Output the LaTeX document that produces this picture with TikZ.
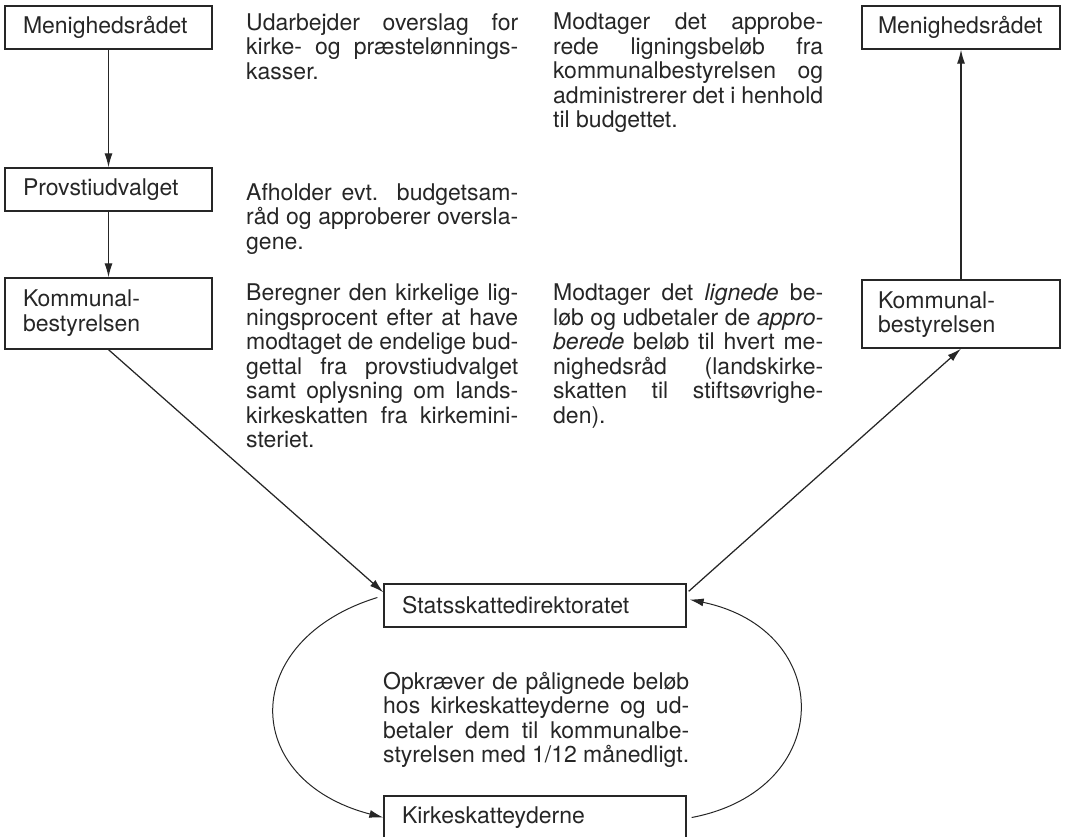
\documentclass[tikz,border=0pt]{standalone}
\usepackage{fontspec}
\setmainfont{TeX Gyre Heros}
\usetikzlibrary{arrows.meta,positioning}
\definecolor{ink}{RGB}{38,38,38}
\tikzset{
  box/.style={draw=ink, line width=1.3pt, inner xsep=18pt, inner ysep=0pt,
    minimum height=43pt, text width=#1, align=left},
  box/.default=171pt,
  txt/.style={anchor=north west, inner sep=0pt, align=justify, text width=#1},
  txt/.default=270pt,
  conn/.style={draw=ink, line width=1.25pt, -{Latex[length=14pt,width=8pt]}},
}

\begin{document}
\begin{tikzpicture}[x=1pt,y=-1pt,
  every node/.style={text=ink, font=\fontsize{23}{24.5}\selectfont},
  execute at begin node={\tolerance=9999 \hyphenpenalty=10000 }]
\useasboundingbox (0,0) rectangle (1067,836);

\node[box] (men1) at (108.5,27.5) {Menighedsrådet};
\node[box] (prov) at (108.5,189.5) {Provstiudvalget};
\node[box, minimum height=71pt, text depth=30pt] (kom1) at (108.5,313.5) {Kommunal-\\bestyrelsen};

\node[box=166pt, inner xsep=16pt] (men2) at (961,27.5) {Menighedsrådet};
\node[box=166pt, inner xsep=16pt, minimum height=68pt, text depth=28pt] (kom2) at (961,314) {Kommunal-\\bestyrelsen};

\node[box=266pt] (stats) at (535,605.5) {Statsskattedirektoratet};
\node[box=266pt] (kirke) at (535,817.5) {Kirkeskatteyderne};

\node[txt=272pt] (udarb) at (246,13) {Udarbejder overslag for\linebreak
  kirke- og præstelønnings-\linebreak kasser.};
\node[txt=272pt] (afhold) at (246,183) {Afholder evt. budgetsam-\linebreak
  råd og approberer oversla-\linebreak gene.};
\node[txt=272pt] (bereg) at (246,284) {Beregner den kirkelige lig-\linebreak
  ningsprocent efter at have\linebreak modtaget de endelige bud-\linebreak
  gettal fra provstiudvalget\linebreak samt oplysning om lands-\linebreak
  kirkeskatten fra kirkemini-\linebreak steriet.};
\node[txt] (modt) at (553,13) {Modtager det approbe-\linebreak
  rede ligningsbeløb fra\linebreak kommunalbestyrelsen og\linebreak
  administrerer det i henhold\linebreak til budgettet.};
\node[txt] (udbet) at (553,284) {Modtager det \textit{lignede} be-\linebreak
  løb og udbetaler de \textit{appro-}\linebreak \textit{berede} beløb til hvert me-\linebreak
  nighedsråd (landskirke-\linebreak skatten til stiftsøvrighe-\linebreak den).};
\node[txt=306pt] (opkr) at (383,672) {Opkræver de pålignede beløb\linebreak
  hos kirkeskatteyderne og ud-\linebreak betaler dem til kommunalbe-\linebreak
  styrelsen med 1/12 månedligt.};

\draw[conn] (men1) -- (prov);
\draw[conn] (prov) -- (kom1);
\draw[conn] (kom1.south) -- ([shift={(0,9)}]stats.north west);
\draw[conn] ([shift={(2,8)}]stats.north east) -- (kom2.south);
\draw[conn] (kom2) -- (men2);
\draw[conn, line width=1pt] ([shift={(-6,-8)}]stats.west) .. controls (239,640) and (239,780) .. (kirke.west);
\draw[conn, line width=1pt] ([shift={(5,0)}]kirke.east) .. controls (836,790) and (836,630) .. ([shift={(3,-6)}]stats.east);
\end{tikzpicture}
\end{document}
